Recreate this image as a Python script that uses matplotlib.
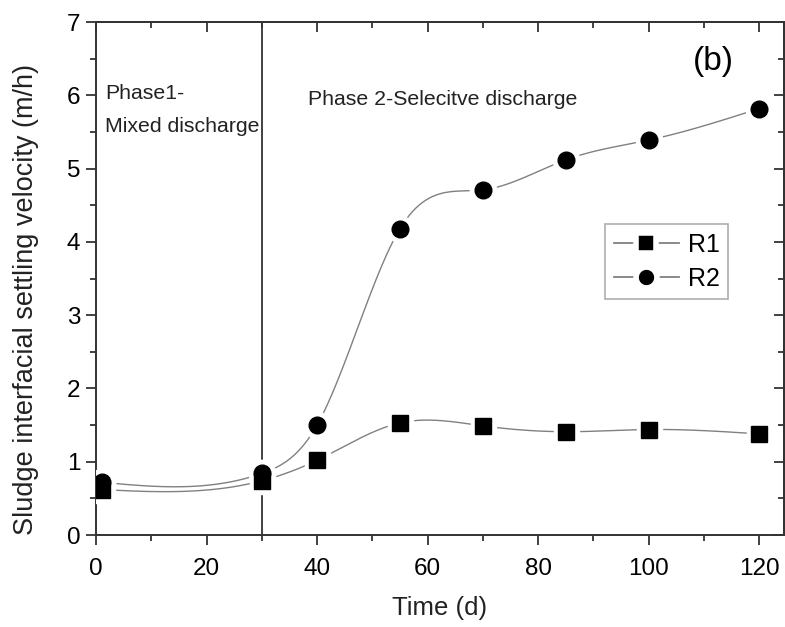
import numpy as np
import matplotlib
matplotlib.use("Agg")
import matplotlib.pyplot as plt
from matplotlib.ticker import MultipleLocator
from matplotlib import font_manager

plt.rcParams['font.family'] = ['Liberation Sans', 'DejaVu Sans']

# data
time_d = [1, 30, 40, 55, 70, 85, 100, 120]
r1 = [0.62, 0.74, 1.02, 1.53, 1.49, 1.41, 1.44, 1.38]
r2 = [0.72, 0.84, 1.50, 4.18, 4.71, 5.12, 5.39, 5.82]


def natural_spline(x, y, n=400):
    """ natural cubic spline through the points, for the smooth connector """
    x = np.asarray(x, float)
    y = np.asarray(y, float)
    m = len(x)
    h = np.diff(x)
    A = np.zeros((m, m))
    b = np.zeros(m)
    A[0, 0] = 1
    A[-1, -1] = 1
    for i in range(1, m - 1):
        A[i, i - 1] = h[i - 1]
        A[i, i] = 2 * (h[i - 1] + h[i])
        A[i, i + 1] = h[i]
        b[i] = 3 * ((y[i + 1] - y[i]) / h[i] - (y[i] - y[i - 1]) / h[i - 1])
    c = np.linalg.solve(A, b)
    xs = np.linspace(x[0], x[-1], n)
    idx = np.clip(np.searchsorted(x, xs) - 1, 0, m - 2)
    dx = xs - x[idx]
    bb = (y[idx + 1] - y[idx]) / h[idx] - h[idx] * (2 * c[idx] + c[idx + 1]) / 3
    dd = (c[idx + 1] - c[idx]) / (3 * h[idx])
    ys = y[idx] + bb * dx + c[idx] * dx ** 2 + dd * dx ** 3
    return xs, ys


# narrow font for the phase notes if there is one
names = {f.name for f in font_manager.fontManager.ttflist}
if 'Liberation Sans Narrow' in names:
    note_font, note_size = 'Liberation Sans Narrow', 17.5
else:
    note_font, note_size = 'Liberation Sans', 15.3

fig = plt.figure(figsize=(7.85, 6.27), dpi=100)
ax = fig.add_axes([0.1223, 0.1467, 0.8764, 0.818])

line_col = '#808080'
sizes = {'s': 11, 'o': 12}
series = [(r1, 's', 'R1'), (r2, 'o', 'R2')]
for ys, mk, lab in series:
    sx, sy = natural_spline(time_d, ys)
    ax.plot(sx, sy, color=line_col, lw=1.0, zorder=2)
# white halo first (gap in the line), black markers over it
for ys, mk, lab in series:
    ax.plot(time_d, ys, ls='none', marker=mk, ms=sizes[mk] + 7, color='white', zorder=3)
for ys, mk, lab in series:
    ax.plot(time_d, ys, ls='none', marker=mk, ms=sizes[mk], color='black', zorder=4)
    # legend proxy
    ax.plot([], [], color=line_col, lw=1.3, marker=mk, ms=sizes[mk] + 3,
            mfc='black', mec='white', mew=4, label=lab)

ax.axvline(30, color='#333333', lw=1.3, zorder=1)

leg = ax.legend(loc='upper left', bbox_to_anchor=(0.74, 0.606), fontsize=18, frameon=True,
                fancybox=False, handlelength=2.6, handletextpad=0.36, borderpad=0.34,
                labelspacing=0.4, borderaxespad=0)
leg.get_frame().set_edgecolor('#999999')
leg.get_frame().set_linewidth(1.2)

ax.text(1.6, 5.95, 'Phase1-', fontsize=note_size, va='baseline', ha='left',
        family=note_font, color='#222222')
ax.text(1.6, 5.50, 'Mixed discharge', fontsize=note_size, va='baseline', ha='left',
        family=note_font, color='#222222')
ax.text(38.4, 5.87, 'Phase 2-Selecitve discharge', fontsize=note_size, va='baseline',
        ha='left', family=note_font, color='#222222')
ax.text(108, 6.34, '(b)', fontsize=24, ha='left', va='baseline', color='black')

ax.set_xlim(0, 124.5)
ax.set_ylim(0, 7)
ax.xaxis.set_major_locator(MultipleLocator(20))
ax.xaxis.set_minor_locator(MultipleLocator(10))
ax.yaxis.set_major_locator(MultipleLocator(1))
ax.yaxis.set_minor_locator(MultipleLocator(0.5))
ax.tick_params(which='both', direction='out', labelsize=17.5, color='#333333', width=1.3)
ax.tick_params(which='major', length=7.2)
ax.tick_params(which='minor', length=4)
ax.tick_params(axis='x', pad=9)
ax.tick_params(axis='y', pad=4)

# mirrored ticks on top and right point inward
top = ax.secondary_xaxis('top')
top.xaxis.set_major_locator(MultipleLocator(20))
top.xaxis.set_minor_locator(MultipleLocator(10))
top.tick_params(which='both', direction='in', labeltop=False, color='#333333', width=1.3)
top.tick_params(which='major', length=7.2)
top.tick_params(which='minor', length=4.5)
right = ax.secondary_yaxis('right')
right.yaxis.set_major_locator(MultipleLocator(1))
right.yaxis.set_minor_locator(MultipleLocator(0.5))
right.tick_params(which='both', direction='in', labelright=False, color='#333333', width=1.3)
right.tick_params(which='major', length=7.2)
right.tick_params(which='minor', length=4.5)
for a in (ax, top, right):
    for s in a.spines.values():
        s.set_linewidth(1.4)
        s.set_color('#333333')

ax.set_xlabel('Time (d)', fontsize=18.5, labelpad=12, color='#222222')
ax.set_ylabel('Sludge interfacial settling velocity (m/h)', fontsize=19.5, color='#222222')
ax.yaxis.set_label_coords(-0.083, 0.46)

fig.savefig('out.png', dpi=100)
